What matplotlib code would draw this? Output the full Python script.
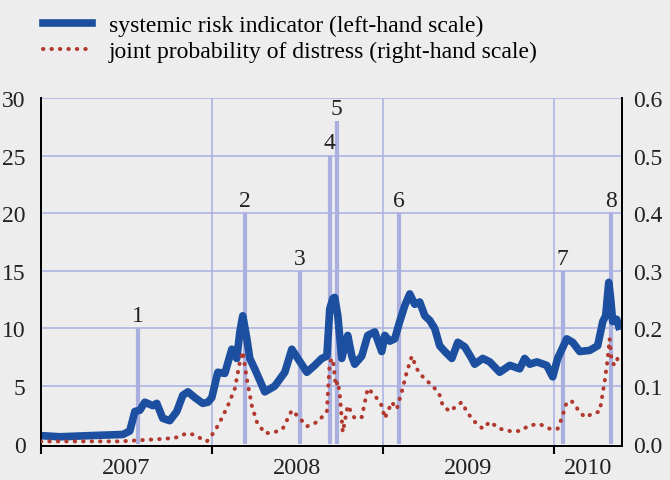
import matplotlib
matplotlib.use("Agg")
import matplotlib.pyplot as plt
import numpy as np

plt.rcParams['font.family'] = ['Liberation Serif', 'DejaVu Serif']

# systemic risk indicator (left-hand scale), time in decimal years
sri_t = [2007.000, 2007.111, 2007.287, 2007.480, 2007.520, 2007.550, 2007.579, 2007.608,
         2007.655, 2007.678, 2007.713, 2007.754, 2007.795, 2007.830, 2007.860, 2007.901,
         2007.947, 2007.977, 2008.000, 2008.035, 2008.076, 2008.117, 2008.146, 2008.164,
         2008.181, 2008.205, 2008.222, 2008.251, 2008.310, 2008.368, 2008.427, 2008.468,
         2008.503, 2008.556, 2008.602, 2008.643, 2008.673, 2008.690, 2008.708, 2008.719,
         2008.737, 2008.760, 2008.778, 2008.795, 2008.819, 2008.836, 2008.877, 2008.912,
         2008.953, 2008.994, 2009.012, 2009.041, 2009.070, 2009.099, 2009.129, 2009.158,
         2009.187, 2009.216, 2009.246, 2009.275, 2009.304, 2009.333, 2009.363, 2009.404,
         2009.439, 2009.480, 2009.520, 2009.538, 2009.585, 2009.626, 2009.684, 2009.743,
         2009.801, 2009.830, 2009.860, 2009.901, 2009.959, 2009.994, 2010.023, 2010.076,
         2010.111, 2010.152, 2010.211, 2010.257, 2010.287, 2010.304, 2010.322, 2010.333,
         2010.345, 2010.368, 2010.380]
sri_v = [0.7, 0.6, 0.7, 0.8, 1.1, 2.8, 2.9, 3.6,
         3.3, 3.5, 2.2, 2.0, 2.8, 4.2, 4.5, 4.0,
         3.5, 3.6, 4.0, 6.2, 6.1, 8.2, 7.4, 9.7,
         11.1, 9.1, 7.4, 6.5, 4.5, 5.0, 6.2, 8.2,
         7.4, 6.2, 6.8, 7.4, 7.6, 11.7, 12.6, 12.7,
         11.1, 7.4, 8.5, 9.4, 7.6, 6.9, 7.6, 9.4,
         9.7, 8.0, 9.4, 8.9, 9.1, 10.6, 12.0, 13.0,
         12.1, 12.3, 11.1, 10.7, 10.0, 8.5, 8.0, 7.4,
         8.8, 8.4, 7.4, 6.9, 7.4, 7.1, 6.2, 6.8,
         6.5, 7.4, 6.9, 7.1, 6.8, 5.8, 7.4, 9.1,
         8.8, 8.0, 8.1, 8.5, 10.6, 11.1, 14.0, 12.6,
         10.6, 10.8, 10.2]

# joint probability of distress (right-hand scale)
jpd_t = [2007.000, 2007.228, 2007.462, 2007.579, 2007.696, 2007.784, 2007.854, 2007.889,
         2007.930, 2007.971, 2008.018, 2008.058, 2008.094, 2008.135, 2008.164, 2008.181,
         2008.205, 2008.234, 2008.263, 2008.310, 2008.368, 2008.415, 2008.468, 2008.515,
         2008.556, 2008.620, 2008.673, 2008.690, 2008.708, 2008.725, 2008.737, 2008.749,
         2008.766, 2008.795, 2008.836, 2008.877, 2008.912, 2008.953, 2008.994, 2009.012,
         2009.053, 2009.082, 2009.111, 2009.140, 2009.170, 2009.199, 2009.228, 2009.263,
         2009.304, 2009.333, 2009.351, 2009.392, 2009.433, 2009.462, 2009.491, 2009.520,
         2009.538, 2009.585, 2009.626, 2009.684, 2009.743, 2009.801, 2009.860, 2009.918,
         2009.977, 2010.023, 2010.047, 2010.076, 2010.105, 2010.140, 2010.181, 2010.228,
         2010.269, 2010.298, 2010.316, 2010.327, 2010.339, 2010.357, 2010.374]
jpd_v = [0.004, 0.004, 0.004, 0.006, 0.008, 0.010, 0.018, 0.016,
         0.010, 0.004, 0.022, 0.044, 0.066, 0.096, 0.142, 0.160,
         0.112, 0.066, 0.038, 0.018, 0.020, 0.026, 0.058, 0.044,
         0.030, 0.038, 0.056, 0.142, 0.148, 0.100, 0.108, 0.084,
         0.020, 0.066, 0.044, 0.046, 0.096, 0.084, 0.066, 0.044,
         0.072, 0.060, 0.090, 0.124, 0.152, 0.130, 0.118, 0.108,
         0.096, 0.084, 0.066, 0.056, 0.066, 0.072, 0.056, 0.044,
         0.038, 0.026, 0.038, 0.026, 0.022, 0.022, 0.032, 0.034,
         0.026, 0.026, 0.044, 0.072, 0.074, 0.060, 0.046, 0.052,
         0.056, 0.108, 0.148, 0.182, 0.142, 0.136, 0.148]

# numbered events
event_labels = ['1', '2', '3', '4', '5', '6', '7', '8']
event_t = [2007.567, 2008.193, 2008.515, 2008.690, 2008.731, 2009.094, 2010.053, 2010.333]
event_h = [10, 20, 15, 25, 28, 20, 15, 20]

years = ['2007', '2008', '2009', '2010']
year_bounds = [2007.0, 2008.0, 2009.0, 2010.0, 2010.398]

bg = '#ededed'
grid_c = '#a9b0e0'
blue = '#1c4fa0'
red = '#b2392f'
txt = '#222222'

fig = plt.figure(figsize=(6.7, 4.81), dpi=100, facecolor=bg)
ax = fig.add_axes([0.061, 0.0707, 0.867, 0.7233], facecolor=bg)
ax.set_xlim(year_bounds[0], year_bounds[-1])
ax.set_ylim(-0.2, 30)

# grid
for y in range(5, 31, 5):
    ax.axhline(y, color=grid_c, lw=1.1, zorder=0)
for x in year_bounds[1:-1]:
    ax.axvline(x, color=grid_c, lw=1.1, zorder=0)

# event markers
ax.vlines(event_t, 0, event_h, color=grid_c, lw=3, zorder=1)
for lab, t, h in zip(event_labels, event_t, event_h):
    ax.text(t, h + 0.2, lab, ha='center', va='bottom', fontsize=17, color=txt)

l1, = ax.plot(sri_t, sri_v, color=blue, lw=5.5, solid_joinstyle='round', zorder=3,
              label='systemic risk indicator (left-hand scale)')

ax2 = ax.twinx()
ax2.set_ylim(-0.2 / 50, 0.6)
l2, = ax2.plot(jpd_t, jpd_v, color=red, lw=2.9, linestyle=(0, (0.1, 2.0)),
               dash_capstyle='round', zorder=4,
               label='joint probability of distress (right-hand scale)')

# axes styling
ax.set_yticks(range(0, 31, 5))
ax.set_yticklabels([str(v) for v in range(0, 31, 5)])
ax2.set_yticks(np.arange(0, 0.61, 0.1))
ax2.set_yticklabels(['%.1f' % v for v in np.arange(0, 0.61, 0.1)])
ax.tick_params(axis='y', length=0, pad=11, labelsize=17, labelcolor=txt)
ax2.tick_params(axis='y', length=0, pad=8, labelsize=17, labelcolor=txt)

mids = [(a + b) / 2 for a, b in zip(year_bounds[:-1], year_bounds[1:])]
ax.set_xticks(mids)
ax.set_xticklabels(years)
ax.set_xticks(year_bounds[:-1], minor=True)
ax.tick_params(axis='x', which='major', length=0, pad=8, labelsize=17.5, labelcolor=txt)
ax.tick_params(axis='x', which='minor', length=6, width=1.5, direction='out')

for a in (ax, ax2):
    a.spines['top'].set_visible(False)
    for s in ('left', 'right', 'bottom'):
        a.spines[s].set_linewidth(1.4)
        a.spines[s].set_color('black')

fig.legend(handles=[l1, l2], loc='upper left', bbox_to_anchor=(0.032, 1.012),
           frameon=False, fontsize=17, handlelength=2.1, handletextpad=0.7,
           labelspacing=0.2)

fig.savefig('out.png', dpi=100, facecolor=bg)
